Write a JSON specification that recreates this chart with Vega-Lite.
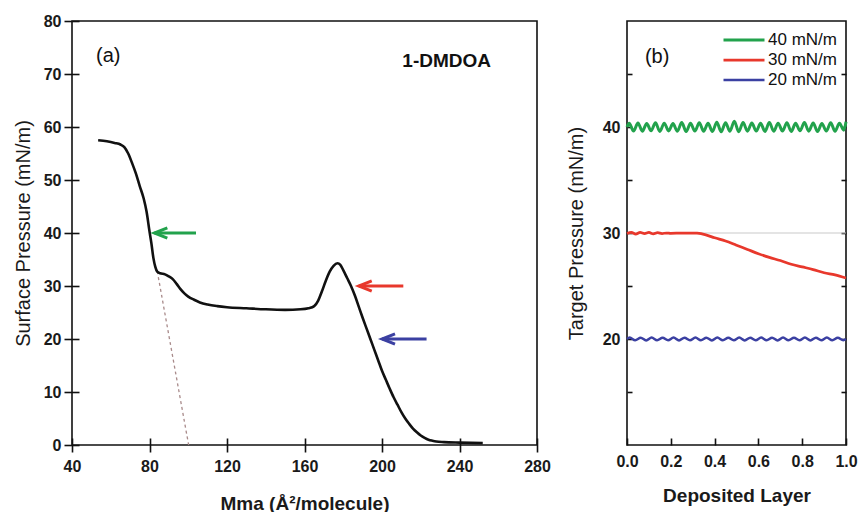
{
  "$schema": "https://vega.github.io/schema/vega-lite/v6.json",
  "padding": {"left": 12, "top": 12, "right": 5, "bottom": 0},
  "spacing": 13,
  "background": "white",
  "config": {
    "font": "Liberation Sans",
    "view": {"stroke": "#111", "strokeWidth": 1.6},
    "axis": {
      "labelFont": "Liberation Sans", "labelFontWeight": "bold", "labelFontSize": 16, "labelColor": "#1a1a1a",
      "titleFont": "Liberation Sans", "titleColor": "#1a1a1a", "tickColor": "#111", "tickWidth": 1.6,
      "grid": false, "domain": false, "labelFlush": false, "labelOverlap": false
    }
  },
  "resolve": {"scale": {"color": "independent", "strokeWidth": "independent"}, "legend": {"color": "independent"}},
  "datasets": {
    "isotherm": [
      {"mma": 53.5, "pi": 57.5}, {"mma": 58, "pi": 57.3}, {"mma": 62, "pi": 57.0}, {"mma": 65, "pi": 56.7},
      {"mma": 67, "pi": 56.2}, {"mma": 69, "pi": 55.0}, {"mma": 71, "pi": 53.2}, {"mma": 73, "pi": 51.2},
      {"mma": 75, "pi": 48.8}, {"mma": 77, "pi": 46.5}, {"mma": 78.5, "pi": 44.0}, {"mma": 80, "pi": 40.3},
      {"mma": 81, "pi": 38.0}, {"mma": 82, "pi": 35.3}, {"mma": 83, "pi": 33.6}, {"mma": 84, "pi": 32.7},
      {"mma": 85.5, "pi": 32.4}, {"mma": 88, "pi": 32.2}, {"mma": 90, "pi": 31.8}, {"mma": 92, "pi": 31.3},
      {"mma": 94, "pi": 30.4}, {"mma": 96, "pi": 29.4}, {"mma": 98, "pi": 28.6}, {"mma": 100, "pi": 28.0},
      {"mma": 103, "pi": 27.4}, {"mma": 106, "pi": 26.9}, {"mma": 110, "pi": 26.5}, {"mma": 115, "pi": 26.2},
      {"mma": 120, "pi": 26.0}, {"mma": 130, "pi": 25.8}, {"mma": 140, "pi": 25.6}, {"mma": 150, "pi": 25.5},
      {"mma": 158, "pi": 25.6}, {"mma": 162, "pi": 25.8}, {"mma": 165, "pi": 26.2}, {"mma": 167, "pi": 27.2},
      {"mma": 169, "pi": 29.0}, {"mma": 171, "pi": 31.0}, {"mma": 173, "pi": 32.7}, {"mma": 175, "pi": 33.8},
      {"mma": 177, "pi": 34.3}, {"mma": 178.5, "pi": 34.0}, {"mma": 180, "pi": 33.0}, {"mma": 182, "pi": 31.5},
      {"mma": 184, "pi": 30.0}, {"mma": 186, "pi": 28.2}, {"mma": 188, "pi": 26.1}, {"mma": 190, "pi": 24.0},
      {"mma": 192, "pi": 22.0}, {"mma": 194, "pi": 20.0}, {"mma": 196, "pi": 18.0}, {"mma": 198, "pi": 16.0},
      {"mma": 200, "pi": 14.0}, {"mma": 202, "pi": 12.3}, {"mma": 204, "pi": 10.6}, {"mma": 206, "pi": 9.0},
      {"mma": 208, "pi": 7.6}, {"mma": 210, "pi": 6.2}, {"mma": 212, "pi": 5.0}, {"mma": 214, "pi": 4.0},
      {"mma": 216, "pi": 3.1}, {"mma": 218, "pi": 2.4}, {"mma": 220, "pi": 1.8}, {"mma": 222, "pi": 1.35},
      {"mma": 224, "pi": 1.0}, {"mma": 226, "pi": 0.8}, {"mma": 228, "pi": 0.65}, {"mma": 232, "pi": 0.55},
      {"mma": 240, "pi": 0.45}, {"mma": 252, "pi": 0.35}
    ],
    "extrap": [{"mma": 84, "pi": 32.8}, {"mma": 100.2, "pi": 0}],
    "arrows": [
      {"head": 82.5, "tail": 104, "pi": 40, "series": "40 mN/m"},
      {"head": 188, "tail": 211, "pi": 30, "series": "30 mN/m"},
      {"head": 200, "tail": 223, "pi": 20, "series": "20 mN/m"}
    ],
    "notesA": [
      {"mma": 52.4, "pi": 73.4, "label": "(a)", "kind": "panel"},
      {"mma": 210.5, "pi": 72.4, "label": "1-DMDOA", "kind": "name"}
    ],
    "layers": [
      {"layer": 0, "p": 40.0, "series": "40 mN/m"},
      {"layer": 0.01, "p": 40.35, "series": "40 mN/m"}, {"layer": 0.03, "p": 39.62, "series": "40 mN/m"},
      {"layer": 0.05, "p": 40.38, "series": "40 mN/m"}, {"layer": 0.07, "p": 39.6, "series": "40 mN/m"},
      {"layer": 0.09, "p": 40.33, "series": "40 mN/m"}, {"layer": 0.11, "p": 39.64, "series": "40 mN/m"},
      {"layer": 0.13, "p": 40.4, "series": "40 mN/m"}, {"layer": 0.15, "p": 39.58, "series": "40 mN/m"},
      {"layer": 0.17, "p": 40.36, "series": "40 mN/m"}, {"layer": 0.19, "p": 39.63, "series": "40 mN/m"},
      {"layer": 0.21, "p": 40.32, "series": "40 mN/m"}, {"layer": 0.23, "p": 39.6, "series": "40 mN/m"},
      {"layer": 0.25, "p": 40.42, "series": "40 mN/m"}, {"layer": 0.27, "p": 39.57, "series": "40 mN/m"},
      {"layer": 0.29, "p": 40.35, "series": "40 mN/m"}, {"layer": 0.31, "p": 39.62, "series": "40 mN/m"},
      {"layer": 0.33, "p": 40.4, "series": "40 mN/m"}, {"layer": 0.35, "p": 39.6, "series": "40 mN/m"},
      {"layer": 0.37, "p": 40.35, "series": "40 mN/m"}, {"layer": 0.39, "p": 39.58, "series": "40 mN/m"},
      {"layer": 0.41, "p": 40.45, "series": "40 mN/m"}, {"layer": 0.43, "p": 39.55, "series": "40 mN/m"},
      {"layer": 0.45, "p": 40.4, "series": "40 mN/m"}, {"layer": 0.47, "p": 39.6, "series": "40 mN/m"},
      {"layer": 0.49, "p": 40.55, "series": "40 mN/m"}, {"layer": 0.51, "p": 39.55, "series": "40 mN/m"},
      {"layer": 0.53, "p": 40.42, "series": "40 mN/m"}, {"layer": 0.55, "p": 39.6, "series": "40 mN/m"},
      {"layer": 0.57, "p": 40.38, "series": "40 mN/m"}, {"layer": 0.59, "p": 39.62, "series": "40 mN/m"},
      {"layer": 0.61, "p": 40.35, "series": "40 mN/m"}, {"layer": 0.63, "p": 39.58, "series": "40 mN/m"},
      {"layer": 0.65, "p": 40.42, "series": "40 mN/m"}, {"layer": 0.67, "p": 39.6, "series": "40 mN/m"},
      {"layer": 0.69, "p": 40.36, "series": "40 mN/m"}, {"layer": 0.71, "p": 39.62, "series": "40 mN/m"},
      {"layer": 0.73, "p": 40.4, "series": "40 mN/m"}, {"layer": 0.75, "p": 39.58, "series": "40 mN/m"},
      {"layer": 0.77, "p": 40.35, "series": "40 mN/m"}, {"layer": 0.79, "p": 39.64, "series": "40 mN/m"},
      {"layer": 0.81, "p": 40.42, "series": "40 mN/m"}, {"layer": 0.83, "p": 39.6, "series": "40 mN/m"},
      {"layer": 0.85, "p": 40.38, "series": "40 mN/m"}, {"layer": 0.87, "p": 39.57, "series": "40 mN/m"},
      {"layer": 0.89, "p": 40.33, "series": "40 mN/m"}, {"layer": 0.91, "p": 39.62, "series": "40 mN/m"},
      {"layer": 0.93, "p": 40.4, "series": "40 mN/m"}, {"layer": 0.95, "p": 39.6, "series": "40 mN/m"},
      {"layer": 0.97, "p": 40.35, "series": "40 mN/m"}, {"layer": 0.99, "p": 39.7, "series": "40 mN/m"},
      {"layer": 1.0, "p": 40.5, "series": "40 mN/m"},

      {"layer": 0, "p": 29.95, "series": "30 mN/m"}, {"layer": 0.02, "p": 30.05, "series": "30 mN/m"},
      {"layer": 0.04, "p": 29.9, "series": "30 mN/m"}, {"layer": 0.06, "p": 30.05, "series": "30 mN/m"},
      {"layer": 0.08, "p": 29.95, "series": "30 mN/m"}, {"layer": 0.1, "p": 30.05, "series": "30 mN/m"},
      {"layer": 0.12, "p": 29.92, "series": "30 mN/m"}, {"layer": 0.14, "p": 30.03, "series": "30 mN/m"},
      {"layer": 0.16, "p": 29.95, "series": "30 mN/m"}, {"layer": 0.18, "p": 30.0, "series": "30 mN/m"},
      {"layer": 0.2, "p": 29.97, "series": "30 mN/m"}, {"layer": 0.25, "p": 30.0, "series": "30 mN/m"},
      {"layer": 0.3, "p": 30.0, "series": "30 mN/m"}, {"layer": 0.32, "p": 29.98, "series": "30 mN/m"},
      {"layer": 0.36, "p": 29.82, "series": "30 mN/m"}, {"layer": 0.4, "p": 29.55, "series": "30 mN/m"},
      {"layer": 0.45, "p": 29.25, "series": "30 mN/m"}, {"layer": 0.5, "p": 28.85, "series": "30 mN/m"},
      {"layer": 0.55, "p": 28.45, "series": "30 mN/m"}, {"layer": 0.6, "p": 28.05, "series": "30 mN/m"},
      {"layer": 0.65, "p": 27.7, "series": "30 mN/m"}, {"layer": 0.7, "p": 27.4, "series": "30 mN/m"},
      {"layer": 0.75, "p": 27.05, "series": "30 mN/m"}, {"layer": 0.8, "p": 26.8, "series": "30 mN/m"},
      {"layer": 0.85, "p": 26.55, "series": "30 mN/m"}, {"layer": 0.9, "p": 26.25, "series": "30 mN/m"},
      {"layer": 0.95, "p": 26.05, "series": "30 mN/m"}, {"layer": 1.0, "p": 25.75, "series": "30 mN/m"},

      {"layer": 0, "p": 20.0, "series": "20 mN/m"},
      {"layer": 0.0125, "p": 20.13, "series": "20 mN/m"}, {"layer": 0.0375, "p": 19.88, "series": "20 mN/m"},
      {"layer": 0.0625, "p": 20.12, "series": "20 mN/m"}, {"layer": 0.0875, "p": 19.87, "series": "20 mN/m"},
      {"layer": 0.1125, "p": 20.13, "series": "20 mN/m"}, {"layer": 0.1375, "p": 19.88, "series": "20 mN/m"},
      {"layer": 0.1625, "p": 20.12, "series": "20 mN/m"}, {"layer": 0.1875, "p": 19.88, "series": "20 mN/m"},
      {"layer": 0.2125, "p": 20.13, "series": "20 mN/m"}, {"layer": 0.2375, "p": 19.87, "series": "20 mN/m"},
      {"layer": 0.2625, "p": 20.12, "series": "20 mN/m"}, {"layer": 0.2875, "p": 19.88, "series": "20 mN/m"},
      {"layer": 0.3125, "p": 20.13, "series": "20 mN/m"}, {"layer": 0.3375, "p": 19.88, "series": "20 mN/m"},
      {"layer": 0.3625, "p": 20.12, "series": "20 mN/m"}, {"layer": 0.3875, "p": 19.87, "series": "20 mN/m"},
      {"layer": 0.4125, "p": 20.13, "series": "20 mN/m"}, {"layer": 0.4375, "p": 19.88, "series": "20 mN/m"},
      {"layer": 0.4625, "p": 20.12, "series": "20 mN/m"}, {"layer": 0.4875, "p": 19.88, "series": "20 mN/m"},
      {"layer": 0.5125, "p": 20.13, "series": "20 mN/m"}, {"layer": 0.5375, "p": 19.87, "series": "20 mN/m"},
      {"layer": 0.5625, "p": 20.12, "series": "20 mN/m"}, {"layer": 0.5875, "p": 19.88, "series": "20 mN/m"},
      {"layer": 0.6125, "p": 20.13, "series": "20 mN/m"}, {"layer": 0.6375, "p": 19.88, "series": "20 mN/m"},
      {"layer": 0.6625, "p": 20.12, "series": "20 mN/m"}, {"layer": 0.6875, "p": 19.87, "series": "20 mN/m"},
      {"layer": 0.7125, "p": 20.13, "series": "20 mN/m"}, {"layer": 0.7375, "p": 19.88, "series": "20 mN/m"},
      {"layer": 0.7625, "p": 20.12, "series": "20 mN/m"}, {"layer": 0.7875, "p": 19.88, "series": "20 mN/m"},
      {"layer": 0.8125, "p": 20.13, "series": "20 mN/m"}, {"layer": 0.8375, "p": 19.87, "series": "20 mN/m"},
      {"layer": 0.8625, "p": 20.12, "series": "20 mN/m"}, {"layer": 0.8875, "p": 19.88, "series": "20 mN/m"},
      {"layer": 0.9125, "p": 20.13, "series": "20 mN/m"}, {"layer": 0.9375, "p": 19.88, "series": "20 mN/m"},
      {"layer": 0.9625, "p": 20.12, "series": "20 mN/m"}, {"layer": 0.9875, "p": 19.88, "series": "20 mN/m"},
      {"layer": 1.0, "p": 20.0, "series": "20 mN/m"}
    ],
    "notesB": [{"layer": 0.082, "p": 46.6, "label": "(b)"}],
    "ref": [{"p": 30}]
  },
  "hconcat": [
    {
      "width": 465,
      "height": 424,
      "layer": [
        {
          "data": {"name": "extrap"},
          "mark": {"type": "line", "color": "#a88a8a", "strokeDash": [3, 3], "strokeWidth": 1.3},
          "encoding": {
            "x": {
              "field": "mma", "type": "quantitative",
              "scale": {"domain": [40, 280], "nice": false},
              "axis": {
                "values": [40, 60, 80, 100, 120, 140, 160, 180, 200, 220, 240, 260, 280],
                "labelExpr": "datum.value % 40 === 0 ? datum.label : ''",
                "tickSize": {"expr": "datum.value % 40 === 0 ? 14 : 11"},
                "offset": -7,
                "labelPadding": 6,
                "title": "Mma (Å²/molecule)",
                "titleFontSize": 19,
                "titleFontWeight": "bold",
                "titlePadding": 20
              }
            },
            "y": {
              "field": "pi", "type": "quantitative",
              "scale": {"domain": [0, 80], "nice": false},
              "axis": {
                "values": [0, 5, 10, 15, 20, 25, 30, 35, 40, 45, 50, 55, 60, 65, 70, 75, 80],
                "labelExpr": "datum.value % 10 === 0 ? datum.label : ''",
                "tickSize": {"expr": "datum.value % 10 === 0 ? 15 : 12"},
                "offset": -7,
                "labelPadding": 3,
                "title": "Surface Pressure (mN/m)",
                "titleFontSize": 20,
                "titleFontWeight": "normal",
                "titlePadding": 10
              }
            }
          }
        },
        {
          "data": {"name": "isotherm"},
          "mark": {"type": "line", "color": "#111", "strokeWidth": 2.6, "interpolate": "monotone"},
          "encoding": {
            "x": {"field": "mma", "type": "quantitative"},
            "y": {"field": "pi", "type": "quantitative"}
          }
        },
        {
          "data": {"name": "arrows"},
          "mark": {"type": "rule", "strokeWidth": 3},
          "encoding": {
            "x": {"field": "head", "type": "quantitative"},
            "x2": {"field": "tail"},
            "y": {"field": "pi", "type": "quantitative"},
            "color": {"field": "series", "type": "nominal", "legend": null,
              "scale": {"domain": ["40 mN/m", "30 mN/m", "20 mN/m"], "range": ["#22a24c", "#e8382c", "#3b40a2"]}}
          }
        },
        {
          "data": {"name": "arrows"},
          "mark": {"type": "point", "shape": "M2,-0.8L0,0L2,0.8", "filled": false, "strokeWidth": 3, "size": 169, "opacity": 1},
          "encoding": {
            "x": {"field": "head", "type": "quantitative"},
            "y": {"field": "pi", "type": "quantitative"},
            "color": {"field": "series", "type": "nominal", "legend": null,
              "scale": {"domain": ["40 mN/m", "30 mN/m", "20 mN/m"], "range": ["#22a24c", "#e8382c", "#3b40a2"]}}
          }
        },
        {
          "data": {"name": "notesA"},
          "transform": [{"filter": "datum.kind === 'panel'"}],
          "mark": {"type": "text", "align": "left", "baseline": "middle", "fontSize": 20, "font": "Liberation Sans", "color": "#111"},
          "encoding": {
            "x": {"field": "mma", "type": "quantitative"},
            "y": {"field": "pi", "type": "quantitative"},
            "text": {"field": "label"}
          }
        },
        {
          "data": {"name": "notesA"},
          "transform": [{"filter": "datum.kind === 'name'"}],
          "mark": {"type": "text", "align": "left", "baseline": "middle", "fontSize": 19, "fontWeight": "bold", "font": "Liberation Sans", "color": "#111"},
          "encoding": {
            "x": {"field": "mma", "type": "quantitative"},
            "y": {"field": "pi", "type": "quantitative"},
            "text": {"field": "label"}
          }
        }
      ]
    },
    {
      "width": 219,
      "height": 424,
      "layer": [
        {
          "data": {"name": "ref"},
          "mark": {"type": "rule", "color": "#c9c9c9", "strokeWidth": 1},
          "encoding": {
            "y": {"field": "p", "type": "quantitative",
              "scale": {"domain": [10, 50], "nice": false},
              "axis": {
                "values": [15, 20, 25, 30, 35, 40, 45],
                "labelExpr": "datum.value % 10 === 0 ? datum.label : ''",
                "tickSize": -5,
                "labelPadding": 12,
                "title": "Target Pressure (mN/m)",
                "titleFontSize": 20,
                "titleFontWeight": "normal",
                "titlePadding": 16
              }
            }
          }
        },
        {
          "data": {"name": "layers"},
          "mark": {"type": "line", "interpolate": "monotone"},
          "encoding": {
            "x": {
              "field": "layer", "type": "quantitative",
              "scale": {"domain": [0, 1], "nice": false},
              "axis": {
                "values": [0, 0.1, 0.2, 0.3, 0.4, 0.5, 0.6, 0.7, 0.8, 0.9, 1.0],
                "format": ".1f",
                "labelExpr": "abs(datum.value * 10 - 2 * round(datum.value * 5)) < 0.01 ? datum.label : ''",
                "tickSize": {"expr": "abs(datum.value * 10 - 2 * round(datum.value * 5)) < 0.01 ? -7 : -4"},
                "labelPadding": 15,
                "title": "Deposited Layer",
                "titleFontSize": 19,
                "titleFontWeight": "bold",
                "titlePadding": 17
              }
            },
            "y": {"field": "p", "type": "quantitative", "axis": {"orient": "right", "values": [15, 20, 25, 30, 35, 40, 45], "labels": false, "tickSize": -5, "title": null}},
            "color": {
              "field": "series", "type": "nominal",
              "scale": {"domain": ["40 mN/m", "30 mN/m", "20 mN/m"], "range": ["#22a24c", "#e8382c", "#3b40a2"]},
              "legend": {
                "title": null, "orient": "top-right", "offset": 9, "padding": 0,
                "symbolType": "stroke", "symbolSize": 1681, "symbolStrokeWidth": 3,
                "labelFont": "Liberation Sans", "labelFontSize": 17, "labelColor": "#111", "labelOffset": 2,
                "clipHeight": 20, "rowPadding": 0
              }
            },
            "strokeWidth": {
              "field": "series", "type": "nominal", "legend": null,
              "scale": {"domain": ["40 mN/m", "30 mN/m", "20 mN/m"], "range": [3, 2.5, 2]}
            }
          }
        },
        {
          "data": {"name": "notesB"},
          "mark": {"type": "text", "align": "left", "baseline": "middle", "fontSize": 20, "font": "Liberation Sans", "color": "#111"},
          "encoding": {
            "x": {"field": "layer", "type": "quantitative"},
            "y": {"field": "p", "type": "quantitative", "axis": null},
            "text": {"field": "label"}
          }
        }
      ],
      "resolve": {"axis": {"y": "independent"}}
    }
  ]
}
